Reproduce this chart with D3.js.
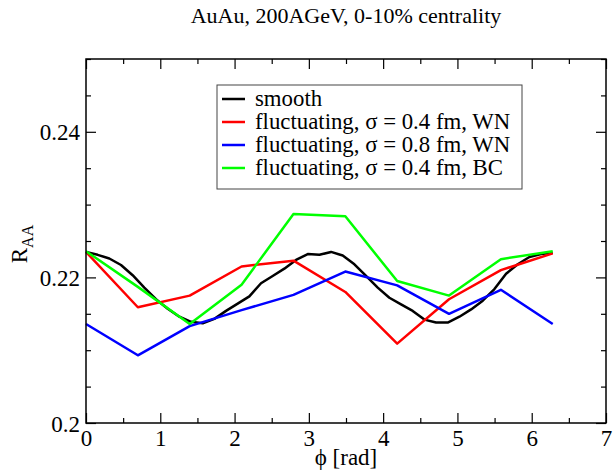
<!DOCTYPE html>
<meta charset="utf-8">
<style>
  body { margin: 0; background: #fff; }
  text { font-family: "Liberation Serif", "Times New Roman", serif; fill: #000; }
  .axis path { display: none; }
  .axis line { stroke: #000; stroke-width: 1.2; }
  .curve { fill: none; stroke-width: 2.5; stroke-linejoin: round; }
</style>
<script src="https://d3js.org/d3.v7.min.js"></script>
<div id="chart"></div>
<script>

// phi grid of the fluctuating runs and of the smooth run
var phiCoarse = [0, 0.698, 1.396, 2.094, 2.793, 3.491, 4.189, 4.887, 5.585, 6.283];
var phiFine = [0, 0.157, 0.314, 0.471, 0.628, 0.785, 0.942, 1.100, 1.257, 1.414,
               1.571, 1.728, 1.885, 2.042, 2.199, 2.356, 2.513, 2.670, 2.827, 2.985,
               3.142, 3.299, 3.456, 3.613, 3.770, 3.927, 4.084, 4.241, 4.398, 4.555,
               4.712, 4.869, 5.027, 5.184, 5.341, 5.498, 5.655, 5.812, 5.969, 6.126, 6.283];

// R_AA values
var smooth = [0.2235, 0.2231, 0.2226, 0.2217, 0.2203, 0.2186, 0.2170, 0.2157, 0.2146, 0.2139,
              0.2137, 0.2143, 0.2154, 0.2164, 0.2174, 0.2192, 0.2202, 0.2212, 0.2224, 0.2232,
              0.2231, 0.2235, 0.2230, 0.2218, 0.2202, 0.2186, 0.2172, 0.2163, 0.2154, 0.2142,
              0.2138, 0.2138, 0.2146, 0.2156, 0.2168, 0.2184, 0.2205, 0.2218, 0.2228, 0.2232, 0.2234];
var fluctWN04 = [0.2235, 0.2159, 0.2175, 0.2215, 0.2223, 0.2180, 0.2109, 0.2170, 0.2210, 0.2233];
var fluctWN08 = [0.2136, 0.2093, 0.2133, 0.2155, 0.2176, 0.2208, 0.2189, 0.2150, 0.2183, 0.2136];
var fluctBC04 = [0.2236, 0.2187, 0.2136, 0.2190, 0.2287, 0.2284, 0.2195, 0.2175, 0.2225, 0.2236];

var labels = ["smooth",
              "fluctuating, \u03c3 = 0.4 fm, WN",
              "fluctuating, \u03c3 = 0.8 fm, WN",
              "fluctuating, \u03c3 = 0.4 fm, BC"];
var colors = ["#000000", "#ff0000", "#0000ff", "#00ff00"];

var xMajor = [0, 1, 2, 3, 4, 5, 6, 7];
var xMinor = [0.5, 1.5, 2.5, 3.5, 4.5, 5.5, 6.5];
var yMajor = [0.2, 0.22, 0.24];
var yMinor = [0.205, 0.21, 0.215, 0.225, 0.23, 0.235, 0.245, 0.25];

var series = [
  {phi: phiFine, v: smooth},
  {phi: phiCoarse, v: fluctWN04},
  {phi: phiCoarse, v: fluctWN08},
  {phi: phiCoarse, v: fluctBC04}
];

var W = 613, H = 470;
var m = {left: 86, right: 606, top: 59, bottom: 423};

var svg = d3.select("#chart").append("svg")
    .attr("width", W)
    .attr("height", H);

var x = d3.scaleLinear().domain([0, 7]).range([m.left, m.right]);
var y = d3.scaleLinear().domain([0.2, 0.25]).range([m.bottom, m.top]);

// curves
var line = d3.line()
    .x(function(d) { return x(d[0]); })
    .y(function(d) { return y(d[1]); });

series.forEach(function(s, i) {
  svg.append("path")
      .attr("class", "curve")
      .attr("stroke", colors[i])
      .attr("d", line(s.phi.map(function(p, j) { return [p, s.v[j]]; })));
});

// ticks, all pointing inward
function ticks(axisFn, scale, values, size, tr, fmt) {
  var a = axisFn(scale).tickValues(values).tickSize(-size);
  a.tickFormat(fmt ? fmt : "");
  return svg.append("g").attr("class", "axis").attr("transform", tr).call(a);
}

var gx = ticks(d3.axisBottom, x, xMajor, 10, "translate(0," + m.bottom + ")", d3.format("d"));
ticks(d3.axisBottom, x, xMinor, 5, "translate(0," + m.bottom + ")");
ticks(d3.axisTop, x, xMajor, 10, "translate(0," + m.top + ")");
ticks(d3.axisTop, x, xMinor, 5, "translate(0," + m.top + ")");

var gy = ticks(d3.axisLeft, y, yMajor, 10, "translate(" + m.left + ",0)", function(d) { return String(+d.toFixed(2)); });
ticks(d3.axisLeft, y, yMinor, 5, "translate(" + m.left + ",0)");
ticks(d3.axisRight, y, yMajor, 10, "translate(" + m.right + ",0)");
ticks(d3.axisRight, y, yMinor, 5, "translate(" + m.right + ",0)");

gx.selectAll("text")
    .attr("y", 7)
    .attr("dy", "0.71em")
    .style("font-size", "23px");
gy.selectAll("text")
    .attr("x", -6)
    .attr("dy", "0.35em")
    .style("font-size", "23px");

// frame
svg.append("rect")
    .attr("x", m.left).attr("y", m.top)
    .attr("width", m.right - m.left).attr("height", m.bottom - m.top)
    .attr("fill", "none")
    .attr("stroke", "#000")
    .attr("stroke-width", 1.5);

// title and axis labels
svg.append("text")
    .attr("x", (m.left + m.right) / 2)
    .attr("y", 23)
    .attr("text-anchor", "middle")
    .style("font-size", "22px")
    .text("AuAu, 200AGeV, 0-10% centrality");

svg.append("text")
    .attr("x", (m.left + m.right) / 2)
    .attr("y", 465)
    .attr("text-anchor", "middle")
    .style("font-size", "23px")
    .text("\u03d5 [rad]");

var yl = svg.append("text")
    .attr("transform", "translate(27,244) rotate(-90)")
    .attr("text-anchor", "middle")
    .style("font-size", "23px");
yl.append("tspan").text("R");
yl.append("tspan").attr("dy", 6).style("font-size", "16px").text("AA");

// legend
var lg = svg.append("g");
lg.append("rect")
    .attr("x", 217).attr("y", 85)
    .attr("width", 305).attr("height", 104)
    .attr("fill", "#fff")
    .attr("stroke", "#444")
    .attr("stroke-width", 1);

labels.forEach(function(t, i) {
  var by = 106 + i * 23;
  lg.append("line")
      .attr("x1", 222).attr("x2", 245)
      .attr("y1", by - 7).attr("y2", by - 7)
      .attr("stroke", colors[i])
      .attr("stroke-width", 2.5);
  lg.append("text")
      .attr("x", 255)
      .attr("y", by)
      .style("font-size", "22.8px")
      .text(t);
});

</script>
